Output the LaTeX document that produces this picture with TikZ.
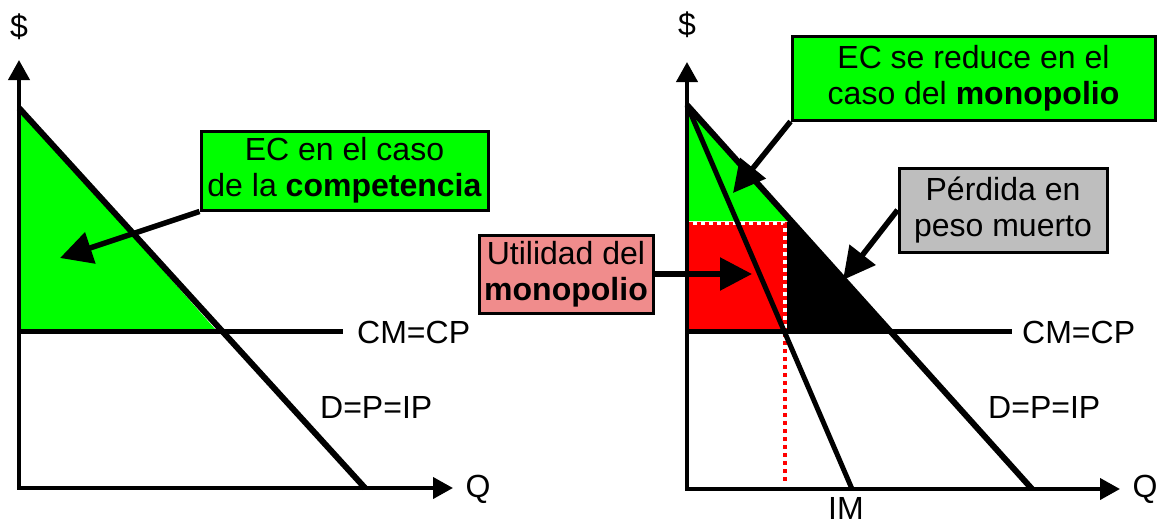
\documentclass[tikz,border=0pt]{standalone}
\usepackage{fontspec}
\setmainfont{Liberation Sans}
\usetikzlibrary{arrows.meta}
\definecolor{ecgreen}{RGB}{0,255,0}
\definecolor{utilred}{RGB}{255,0,0}
\definecolor{pinkbox}{RGB}{240,140,140}
\definecolor{graybox}{RGB}{190,190,190}
\tikzset{
  axisline/.style={line width=4pt, {Triangle[length=20pt,width=21pt]}-{Triangle[length=20pt,width=21pt]}},
  demand/.style={line width=6pt},
  costline/.style={line width=5pt},
  callout/.style={line width=5.5pt, -{Triangle[length=32pt,width=32pt]}},
  lbl/.style={font=\fontsize{32}{37}\selectfont, inner sep=0pt},
  box/.style={draw=black, line width=3pt, inner sep=0pt, align=center, font=\fontsize{32}{36}\selectfont},
  dotred/.style={draw=utilred, line width=3.5pt, dash pattern=on 4pt off 4pt},
}
\begin{document}
\begin{tikzpicture}[x=1pt,y=-1pt]
\useasboundingbox (0,0) rectangle (1166,527);

% ---------------- left panel ----------------
\coordinate (oL) at (19,488);
\coordinate (yL) at (19,60);
\coordinate (xL) at (453,488);
\coordinate (dLt) at (19,108);
\coordinate (dLb) at (365,488);
\coordinate (cLa) at (19,331);
\coordinate (cLb) at (343,331);

\fill[ecgreen] (19,108) -- (19,329) -- (215,329) -- cycle;
\draw[costline] (cLa) -- (cLb);
\draw[demand] (dLt) -- (dLb);
\draw[axisline] (yL) -- (oL) -- (xL);

\node[lbl] (dolL) at (19,27) {\$};
\node[lbl] (qL) at (478,489) {Q};
\node[lbl, anchor=west] (cmL) at (357,332) {CM=CP};
\node[lbl, anchor=west] (dpL) at (320,407) {D=P=IP};

\node[box, fill=ecgreen, minimum width=287pt, minimum height=79pt] (ecL) at (344.5,170.5)
  {EC en el caso\\de la \textbf{competencia}};
\coordinate (tipL) at (60,258);
\draw[callout] (ecL.south west) -- (tipL);

% ---------------- right panel ----------------
\coordinate (oR) at (687,489);
\coordinate (yR) at (687,62);
\coordinate (xR) at (1120,489);
\coordinate (dRt) at (687,105);
\coordinate (dRb) at (1032,489);
\coordinate (imb) at (852,489);
\coordinate (cRa) at (687,331);
\coordinate (cRb) at (1012,331);
\coordinate (qmBot) at (785,483);

\fill[ecgreen] (689,105) -- (689,221) -- (790,221) -- cycle;
\fill[utilred] (689,222) rectangle (785,329);
\fill[black] (785,222) -- (792,222) -- (888,329) -- (785,329) -- cycle;
\draw[white, line width=3.5pt] (689,223.5) -- (785,223.5) -- (785,329);
\draw[dotred] (689,223.5) -- (785,223.5) -- (785,329);
\draw[dotred] (785,333) -- (qmBot);

\draw[costline] (cRa) -- (cRb);
\draw[demand] (dRt) -- (dRb);
\draw[costline] (dRt) -- (imb);
\draw[axisline] (yR) -- (oR) -- (xR);

\node[lbl] (dolR) at (687,25) {\$};
\node[lbl] (qR) at (1145,489) {Q};
\node[lbl] (imL) at (846,508) {IM};
\node[lbl, anchor=west] (cmR) at (1022,332) {CM=CP};
\node[lbl, anchor=west] (dpR) at (988,407) {D=P=IP};

\node[box, fill=ecgreen, minimum width=363pt, minimum height=83pt] (ecR) at (973.5,78.5)
  {EC se reduce en el\\caso del \textbf{monopolio}};
\coordinate (tipR) at (733,193);
\draw[callout] (ecR.south west) -- (tipR);

\node[box, fill=graybox, minimum width=208pt, minimum height=84pt] (perd) at (1003,210)
  {Pérdida en\\peso muerto};
\coordinate (tipP) at (843,280);
\draw[callout] (perd.west) -- (tipP);

\node[box, fill=pinkbox, minimum width=174pt, minimum height=78pt] (util) at (566,274)
  {Utilidad del\\\textbf{monopolio}};
\coordinate (tipU) at (752,274);
\draw[callout] (util.east) -- (tipU);
\end{tikzpicture}
\end{document}
